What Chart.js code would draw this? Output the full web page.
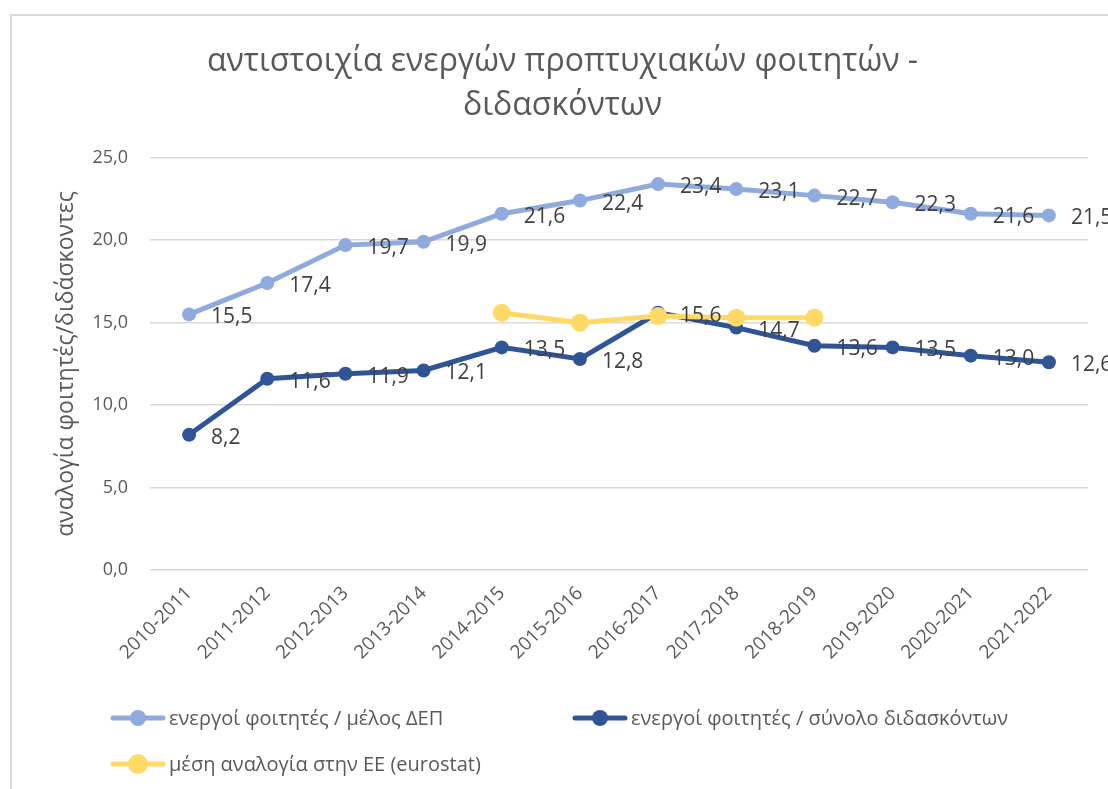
<!DOCTYPE html>
<html lang="el">
<head>
    <meta charset="UTF-8">
    <title>αντιστοιχία ενεργών προπτυχιακών φοιτητών - διδασκόντων</title>
    <script src="https://cdn.jsdelivr.net/npm/chart.js@4"></script>
    <style>
        body {
            margin: 0;
            background: #fff;
            font-family: "Open Sans", sans-serif;
            overflow: hidden;
        }
        .frame {
            position: absolute;
            left: 10px;
            top: 14px;
            width: 1200px;
            height: 900px;
            border-left: 2px solid #d9d9d9;
            border-top: 2px solid #d9d9d9;
        }
        .chart-box {
            position: absolute;
            left: 0;
            top: 0;
            width: 1108px;
            height: 789px;
        }
        .legend-item {
            position: absolute;
            display: flex;
            align-items: center;
            font-size: 20px;
            color: #595959;
            white-space: nowrap;
        }
        .legend-item canvas {
            margin-right: 3px;
        }
    </style>
</head>
<body>
    <div class="frame"></div>
    <div class="chart-box">
        <canvas id="ratioChart"></canvas>
    </div>
    <div id="legend"></div>

    <script>
        const years = ['2010-2011', '2011-2012', '2012-2013', '2013-2014', '2014-2015', '2015-2016',
                       '2016-2017', '2017-2018', '2018-2019', '2019-2020', '2020-2021', '2021-2022'];
        const perFacultyMember = [15.5, 17.4, 19.7, 19.9, 21.6, 22.4, 23.4, 23.1, 22.7, 22.3, 21.6, 21.5];
        const perAllTeachers = [8.2, 11.6, 11.9, 12.1, 13.5, 12.8, 15.6, 14.7, 13.6, 13.5, 13.0, 12.6];
        const euAverage = [null, null, null, null, 15.6, 15.0, 15.4, 15.3, 15.3, null, null, null];

        const seriesNames = [
            'ενεργοί φοιτητές / μέλος ΔΕΠ',
            'ενεργοί φοιτητές / σύνολο διδασκόντων',
            'μέση αναλογία στην ΕΕ (eurostat)'
        ];
        const colors = ['#8faadc', '#2f5597', '#ffd966'];

        const fmt = v => v.toFixed(1).replace('.', ',');

        // draws the value next to each point (right side, like excel)
        const valueLabels = {
            id: 'valueLabels',
            afterDatasetsDraw(chart) {
                const ctx = chart.ctx;
                ctx.save();
                ctx.font = '21px "Open Sans", sans-serif';
                ctx.fillStyle = '#404040';
                ctx.textAlign = 'left';
                ctx.textBaseline = 'middle';
                chart.data.datasets.forEach((ds, di) => {
                    if (!ds.showLabels) return;
                    const meta = chart.getDatasetMeta(di);
                    meta.data.forEach((pt, i) => {
                        const v = ds.data[i];
                        if (v === null) return;
                        ctx.fillText(fmt(v), pt.x + 22, pt.y + 3);
                    });
                });
                ctx.restore();
            }
        };

        const ctx = document.getElementById('ratioChart').getContext('2d');
        const ratioChart = new Chart(ctx, {
            type: 'line',
            data: {
                labels: years,
                datasets: [
                    {
                        label: seriesNames[0],
                        data: perFacultyMember,
                        borderColor: colors[0],
                        backgroundColor: colors[0],
                        borderWidth: 5,
                        pointRadius: 7,
                        pointBorderWidth: 0,
                        showLabels: true,
                        order: 2
                    },
                    {
                        label: seriesNames[1],
                        data: perAllTeachers,
                        borderColor: colors[1],
                        backgroundColor: colors[1],
                        borderWidth: 5,
                        pointRadius: 7,
                        pointBorderWidth: 0,
                        showLabels: true,
                        order: 1
                    },
                    {
                        label: seriesNames[2],
                        data: euAverage,
                        borderColor: colors[2],
                        backgroundColor: colors[2],
                        borderWidth: 5,
                        pointRadius: 9,
                        pointBorderWidth: 0,
                        showLabels: false,
                        order: 0
                    }
                ]
            },
            options: {
                responsive: true,
                maintainAspectRatio: false,
                animation: false,
                layout: {
                    padding: { top: 16, left: 37, right: 20, bottom: 121 }
                },
                plugins: {
                    legend: { display: false },
                    tooltip: { enabled: false },
                    title: {
                        display: true,
                        text: ['αντιστοιχία ενεργών προπτυχιακών φοιτητών -', 'διδασκόντων'],
                        color: '#595959',
                        font: { family: '"Open Sans", sans-serif', size: 32, weight: 'normal', lineHeight: 1.37 },
                        padding: { top: 24, bottom: 30 }
                    }
                },
                scales: {
                    x: {
                        offset: true,
                        grid: { display: false },
                        border: { display: false },
                        ticks: {
                            color: '#595959',
                            font: { family: '"Open Sans", sans-serif', size: 19 },
                            minRotation: 45,
                            maxRotation: 45,
                            padding: 4
                        }
                    },
                    y: {
                        min: 0,
                        max: 25,
                        grid: { color: '#d9d9d9', lineWidth: 1.5, drawTicks: false },
                        border: { display: false },
                        afterFit: scale => { scale.width = 113; },
                        ticks: {
                            stepSize: 5,
                            color: '#595959',
                            font: { family: '"Open Sans", sans-serif', size: 18 },
                            padding: 22,
                            callback: v => fmt(v)
                        },
                        title: {
                            display: true,
                            text: 'αναλογία φοιτητές/διδάσκοντες',
                            color: '#595959',
                            font: { family: '"Open Sans", sans-serif', size: 23 },
                            padding: { top: 16, bottom: 0 }
                        }
                    }
                }
            },
            plugins: [valueLabels]
        });

        // html legend laid out like the excel one
        const legendPos = [[110, 718], [572, 718], [110, 764]];
        const legend = document.getElementById('legend');
        seriesNames.forEach((name, i) => {
            const item = document.createElement('div');
            item.className = 'legend-item';
            const mk = document.createElement('canvas');
            mk.width = 56; mk.height = 22;
            const c = mk.getContext('2d');
            c.strokeStyle = colors[i];
            c.lineWidth = 5;
            c.lineCap = 'round';
            c.beginPath(); c.moveTo(3, 11); c.lineTo(53, 11); c.stroke();
            c.fillStyle = colors[i];
            c.beginPath(); c.arc(28, 11, i === 2 ? 10 : 8, 0, Math.PI * 2); c.fill();
            item.appendChild(mk);
            item.appendChild(document.createTextNode(name));
            item.style.left = legendPos[i][0] + 'px';
            item.style.top = (legendPos[i][1] - 14) + 'px';
            legend.appendChild(item);
        });
    </script>
</body>
</html>
